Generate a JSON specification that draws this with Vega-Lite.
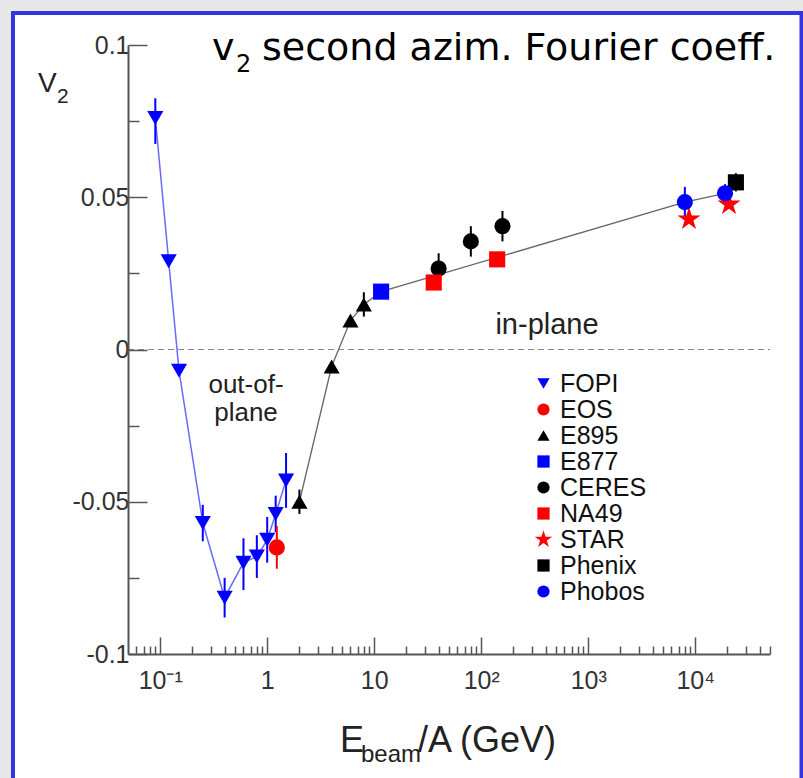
{
  "$schema": "https://vega.github.io/schema/vega-lite/v6.json",
  "width": 642,
  "height": 609,
  "autosize": {"type": "none"},
  "padding": {"left": 128, "top": 45, "right": 33, "bottom": 124},
  "background": "#ffffff",
  "config": {"view": {"stroke": null}, "font": "Liberation Sans"},
  "datasets": {
    "obs": [
      {"exp": "FOPI", "E": 0.09, "v": 0.076, "lo": 0.0675, "hi": 0.0825},
      {"exp": "FOPI", "E": 0.12, "v": 0.029, "lo": null, "hi": null},
      {"exp": "FOPI", "E": 0.15, "v": -0.007, "lo": null, "hi": null},
      {"exp": "FOPI", "E": 0.25, "v": -0.057, "lo": -0.063, "hi": -0.051},
      {"exp": "FOPI", "E": 0.4, "v": -0.0815, "lo": -0.088, "hi": -0.075},
      {"exp": "FOPI", "E": 0.6, "v": -0.07, "lo": -0.079, "hi": -0.062},
      {"exp": "FOPI", "E": 0.8, "v": -0.068, "lo": -0.075, "hi": -0.061},
      {"exp": "FOPI", "E": 1.0, "v": -0.0625, "lo": -0.07, "hi": -0.055},
      {"exp": "FOPI", "E": 1.2, "v": -0.054, "lo": -0.06, "hi": -0.048},
      {"exp": "FOPI", "E": 1.5, "v": -0.043, "lo": -0.052, "hi": -0.034},
      {"exp": "EOS", "E": 1.23, "v": -0.065, "lo": -0.072, "hi": -0.058},
      {"exp": "E895", "E": 2, "v": -0.05, "lo": -0.054, "hi": -0.046},
      {"exp": "E895", "E": 4, "v": -0.0056, "lo": null, "hi": null},
      {"exp": "E895", "E": 6, "v": 0.0095, "lo": null, "hi": null},
      {"exp": "E895", "E": 8, "v": 0.0148, "lo": 0.0108, "hi": 0.0188},
      {"exp": "E877", "E": 11.6, "v": 0.019, "lo": null, "hi": null},
      {"exp": "CERES", "E": 40, "v": 0.0266, "lo": 0.0216, "hi": 0.0316},
      {"exp": "CERES", "E": 80, "v": 0.0355, "lo": 0.0305, "hi": 0.0405},
      {"exp": "CERES", "E": 158, "v": 0.0405, "lo": 0.0355, "hi": 0.0455},
      {"exp": "NA49", "E": 36, "v": 0.022, "lo": null, "hi": null},
      {"exp": "NA49", "E": 141, "v": 0.0296, "lo": null, "hi": null},
      {"exp": "STAR", "E": 8750, "v": 0.0428, "lo": null, "hi": null},
      {"exp": "STAR", "E": 20700, "v": 0.0477, "lo": null, "hi": null},
      {"exp": "Phenix", "E": 24000, "v": 0.0549, "lo": 0.0519, "hi": 0.0579},
      {"exp": "Phobos", "E": 8000, "v": 0.0484, "lo": 0.0434, "hi": 0.0534},
      {"exp": "Phobos", "E": 19000, "v": 0.0513, "lo": 0.0483, "hi": 0.0543}
    ],
    "curve": [
      {"E": 2, "v": -0.05},
      {"E": 4, "v": -0.0056},
      {"E": 6, "v": 0.0095},
      {"E": 8, "v": 0.0148},
      {"E": 11.6, "v": 0.019},
      {"E": 8000, "v": 0.0484},
      {"E": 19000, "v": 0.0513}
    ],
    "margin": [
      {"E": 0.002858, "E2": 0.004031, "v": 0.1164, "v2": -0.1447},
      {"E": 0.002858, "E2": 118000, "v": 0.1164, "v2": 0.11117}
    ],
    "frame": [{"E": 0.004209, "E2": 98470, "v": 0.1105, "v2": -0.1447}],
    "zero": [{"E": 0.05, "E2": 50000, "v": 0}],
    "titleMain": [
      {"E": 0.3048, "v": 0.09507, "t": "v"},
      {"E": 0.894, "v": 0.09507, "t": "second azim. Fourier coeff."}
    ],
    "titleSub": [{"E": 0.5108, "v": 0.09113, "t": "2"}],
    "yMain": [{"E": 0.007208, "v": 0.0846, "t": "V"}],
    "ySub": [{"E": 0.01085, "v": 0.081, "t": "2"}],
    "xMain": [
      {"E": 4.789, "v": -0.13218, "t": "E"},
      {"E": 25.66, "v": -0.13218, "t": "/A (GeV)"}
    ],
    "xSub": [{"E": 7.523, "v": -0.13547, "t": "beam"}],
    "notesBig": [{"E": 412, "v": 0.00805, "t": "in-plane"}],
    "notes": [
      {"E": 0.6335, "v": -0.01166, "t": "out-of-"},
      {"E": 0.6335, "v": -0.02085, "t": "plane"}
    ]
  },
  "encoding": {
    "x": {"field": "E", "type": "quantitative", "scale": {"type": "log", "domain": [0.05, 50000], "nice": false},
      "axis": {"values": [0.06, 0.07, 0.08, 0.09, 0.1, 0.2, 0.3, 0.4, 0.5, 0.6, 0.7, 0.8, 0.9, 1, 2, 3, 4, 5, 6, 7, 8, 9, 10, 20, 30, 40, 50, 60, 70, 80, 90, 100, 200, 300, 400, 500, 600, 700, 800, 900, 1000, 2000, 3000, 4000, 5000, 6000, 7000, 8000, 9000, 10000, 20000, 30000, 40000, 50000],
        "tickSize": {"condition": {"test": "abs(log(datum.value)/LN10 - round(log(datum.value)/LN10)) < 0.001", "value": -17}, "value": -8},
        "labelPadding": 31, "grid": false, "orient": "bottom",
        "domainColor": "#555555", "domainWidth": 2, "tickColor": "#555555", "tickWidth": 1.5, "zindex": 1,
        "labelFontSize": 25, "labelColor": "#333333", "labelFont": "Liberation Sans", "labelFlush": false, "labelOverlap": false, "labelBound": false, "title": null,
        "labelExpr": "abs(log(datum.value)/LN10 - round(log(datum.value)/LN10)) > 0.001 ? '' : datum.value < 0.5 ? '10⁻¹' : datum.value < 5 ? '1' : datum.value < 50 ? '10' : datum.value < 500 ? '10²' : datum.value < 5000 ? '10³' : '10⁴'"}},
    "y": {"field": "v", "type": "quantitative", "scale": {"domain": [-0.1, 0.1], "nice": false, "zero": false},
      "axis": {"values": [-0.1, -0.075, -0.05, -0.025, 0, 0.025, 0.05, 0.075, 0.1],
        "tickSize": {"condition": {"test": "abs(datum.value*20 - round(datum.value*20)) < 0.001", "value": -19}, "value": -11},
        "labelPadding": 18, "grid": false, "orient": "left",
        "domainColor": "#555555", "domainWidth": 2, "tickColor": "#555555", "tickWidth": 1.5, "zindex": 1,
        "labelFontSize": 25, "labelColor": "#333333", "labelFont": "Liberation Sans", "labelFlush": false, "labelOverlap": false, "labelBound": false, "title": null,
        "labelExpr": "abs(datum.value*20 - round(datum.value*20)) > 0.001 ? '' : datum.value > 0.07 ? '0.1' : datum.value > 0.02 ? '0.05' : datum.value > -0.02 ? '0' : datum.value > -0.07 ? '-0.05' : '-0.1'"}}
  },
  "layer": [
    {
      "data": {"name": "margin"},
      "mark": {"type": "rect", "fill": "#e8e8e8", "strokeWidth": 0},
      "encoding": {"x2": {"field": "E2"}, "y2": {"field": "v2"}}
    },
    {
      "data": {"name": "frame"},
      "mark": {"type": "rect", "fill": "transparent", "stroke": "#3434e0", "strokeWidth": 4},
      "encoding": {"x2": {"field": "E2"}, "y2": {"field": "v2"}}
    },
    {
      "data": {"name": "zero"},
      "mark": {"type": "rule", "color": "#888888", "strokeDash": [6, 4], "strokeWidth": 1.2},
      "encoding": {"x2": {"field": "E2"}}
    },
    {
      "data": {"name": "curve"},
      "mark": {"type": "line", "color": "#666666", "strokeWidth": 1.3},
      "encoding": {}
    },
    {
      "data": {"name": "obs"},
      "transform": [{"filter": "datum.exp === 'FOPI'"}],
      "mark": {"type": "line", "color": "#6a6aff", "strokeWidth": 1.5},
      "encoding": {}
    },
    {
      "data": {"name": "obs"},
      "transform": [{"filter": "datum.lo != null && (datum.exp === 'FOPI' || datum.exp === 'Phobos')"}],
      "mark": {"type": "rule", "strokeWidth": 2, "color": "#0000ff"},
      "encoding": {"y": {"field": "lo"}, "y2": {"field": "hi"}}
    },
    {
      "data": {"name": "obs"},
      "transform": [{"filter": "datum.lo != null && datum.exp === 'EOS'"}],
      "mark": {"type": "rule", "strokeWidth": 2, "color": "#ff0000"},
      "encoding": {"y": {"field": "lo"}, "y2": {"field": "hi"}}
    },
    {
      "data": {"name": "obs"},
      "transform": [{"filter": "datum.lo != null && (datum.exp === 'E895' || datum.exp === 'CERES' || datum.exp === 'Phenix')"}],
      "mark": {"type": "rule", "strokeWidth": 2, "color": "#000000"},
      "encoding": {"y": {"field": "lo"}, "y2": {"field": "hi"}}
    },
    {
      "data": {"name": "obs"},
      "mark": {"type": "point", "filled": true, "size": 260, "opacity": 1, "strokeWidth": 0},
      "encoding": {
        "color": {"field": "exp", "type": "nominal",
          "scale": {"domain": ["FOPI", "EOS", "E895", "E877", "CERES", "NA49", "STAR", "Phenix", "Phobos"],
            "range": ["#0000ff", "#ff0000", "#000000", "#0000ff", "#000000", "#ff0000", "#ff0000", "#000000", "#0000ff"]},
          "legend": {"orient": "none", "legendX": 403, "legendY": 326, "title": null, "padding": 0, "rowPadding": -1, "zindex": 1,
            "labelFontSize": 25, "labelFont": "Liberation Sans", "labelColor": "#111111", "symbolSize": 150, "labelOffset": 4, "symbolStrokeWidth": 0}},
        "shape": {"field": "exp", "type": "nominal",
          "scale": {"domain": ["FOPI", "EOS", "E895", "E877", "CERES", "NA49", "STAR", "Phenix", "Phobos"],
            "range": ["triangle-down", "circle", "triangle-up", "square", "circle", "square", "M0,-1.5L0.337,-0.464L1.427,-0.464L0.545,0.177L0.882,1.214L0,0.573L-0.882,1.214L-0.545,0.177L-1.427,-0.464L-0.337,-0.464Z", "square", "circle"]},
          "legend": {"orient": "none", "legendX": 403, "legendY": 326, "title": null, "padding": 0, "rowPadding": -1, "zindex": 1,
            "labelFontSize": 25, "labelFont": "Liberation Sans", "labelColor": "#111111", "symbolSize": 150, "labelOffset": 4, "symbolStrokeWidth": 0}}
      }
    },
    {
      "data": {"name": "titleMain"},
      "mark": {"type": "text", "font": "DejaVu Sans", "fontSize": 38, "align": "left", "baseline": "alphabetic", "color": "#000000"},
      "encoding": {"text": {"field": "t"}}
    },
    {
      "data": {"name": "titleSub"},
      "mark": {"type": "text", "font": "DejaVu Sans", "fontSize": 24, "align": "left", "baseline": "alphabetic", "color": "#000000"},
      "encoding": {"text": {"field": "t"}}
    },
    {
      "data": {"name": "yMain"},
      "mark": {"type": "text", "font": "Liberation Sans", "fontSize": 28, "align": "left", "baseline": "alphabetic", "color": "#222222"},
      "encoding": {"text": {"field": "t"}}
    },
    {
      "data": {"name": "ySub"},
      "mark": {"type": "text", "font": "Liberation Sans", "fontSize": 21, "align": "left", "baseline": "alphabetic", "color": "#222222"},
      "encoding": {"text": {"field": "t"}}
    },
    {
      "data": {"name": "xMain"},
      "mark": {"type": "text", "font": "Liberation Sans", "fontSize": 36, "align": "left", "baseline": "alphabetic", "color": "#222222"},
      "encoding": {"text": {"field": "t"}}
    },
    {
      "data": {"name": "xSub"},
      "mark": {"type": "text", "font": "Liberation Sans", "fontSize": 24, "align": "left", "baseline": "alphabetic", "color": "#222222"},
      "encoding": {"text": {"field": "t"}}
    },
    {
      "data": {"name": "notesBig"},
      "mark": {"type": "text", "font": "Liberation Sans", "fontSize": 29, "align": "center", "baseline": "middle", "color": "#222222"},
      "encoding": {"text": {"field": "t"}}
    },
    {
      "data": {"name": "notes"},
      "mark": {"type": "text", "font": "Liberation Sans", "fontSize": 26, "align": "center", "baseline": "middle", "color": "#222222"},
      "encoding": {"text": {"field": "t"}}
    }
  ]
}
